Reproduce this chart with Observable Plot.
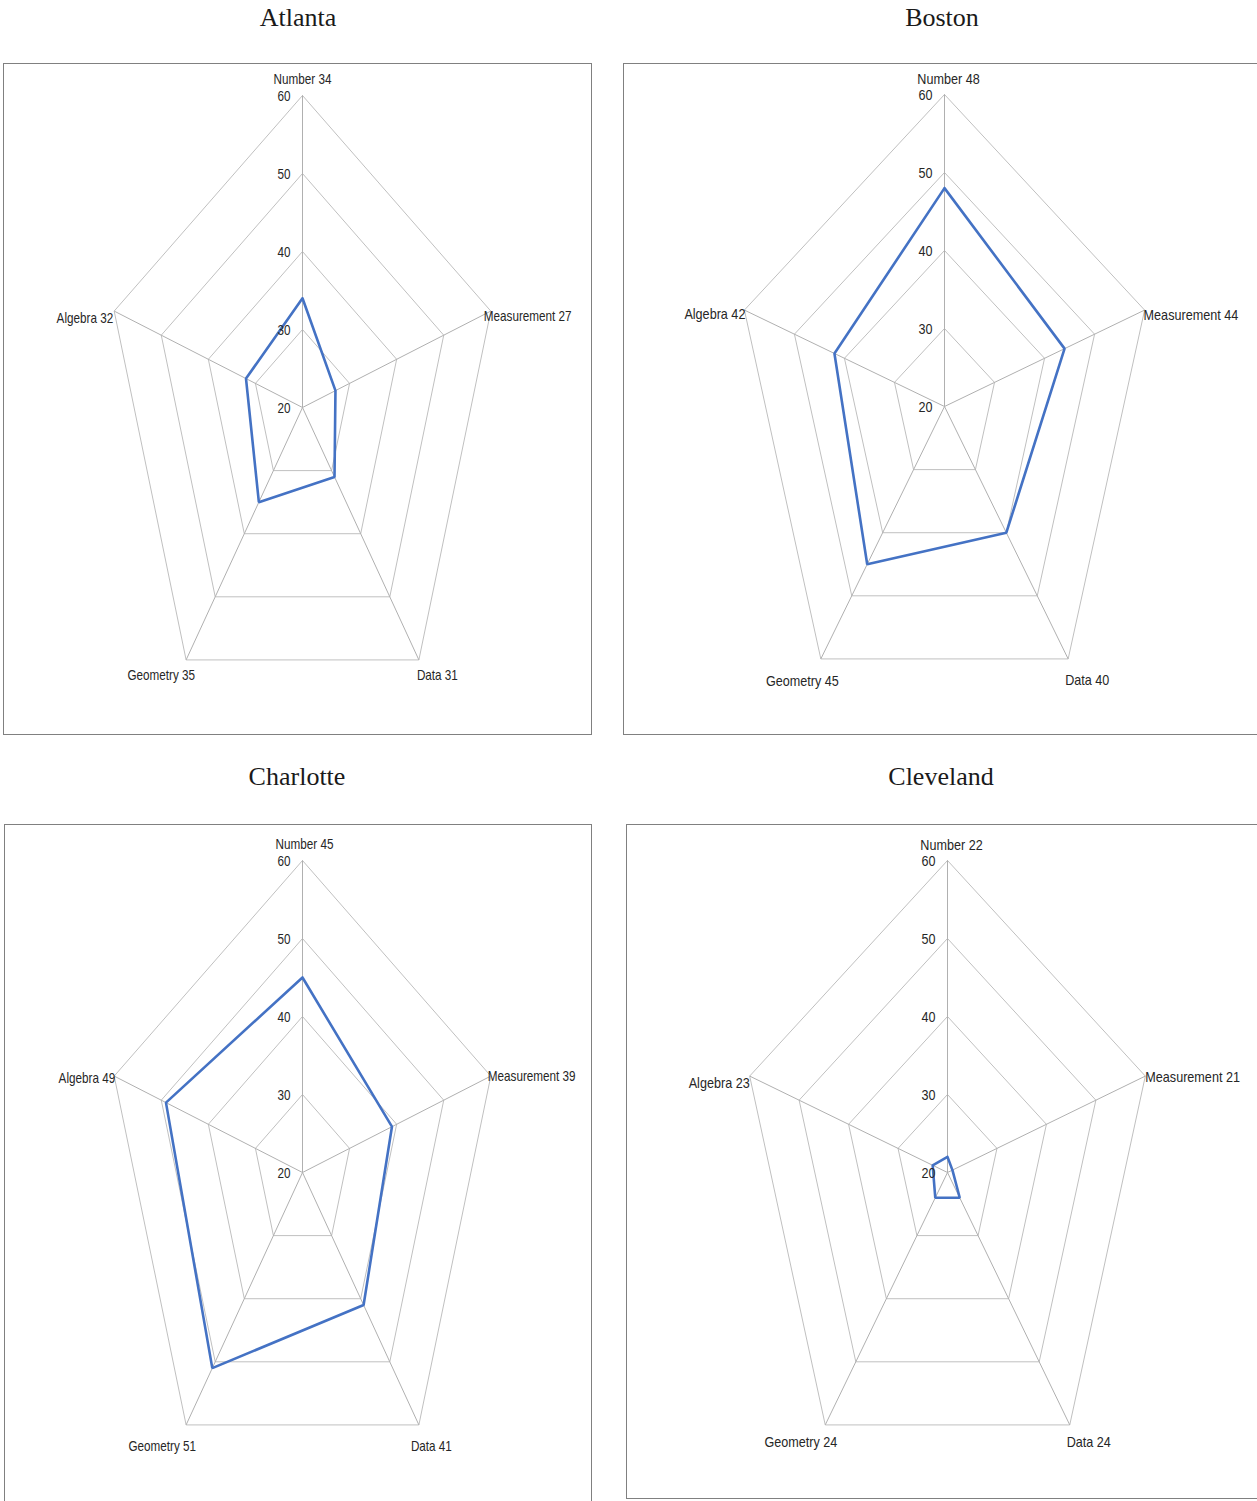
<!DOCTYPE html>
<html>
<head>
<meta charset="utf-8">
<script src="https://cdn.jsdelivr.net/npm/d3@7"></script>
<script src="https://cdn.jsdelivr.net/npm/@observablehq/plot@0.6"></script>
<style>
  body { margin: 0; background: #fff; }
  #root { position: relative; width: 1257px; height: 1501px; overflow: hidden; background: #fff; }
  .title { position: absolute; font-family: "Liberation Serif", "Times New Roman", serif; font-size: 26px; color: #1a1a1a; transform: translateX(-50%); white-space: nowrap; line-height: 1; }
  .panel { position: absolute; border: 1px solid #808080; box-sizing: border-box; background: #fff; overflow: visible; }
  .panel svg { display: block; position: absolute; left: -1px; top: -1px; overflow: visible; max-width: none !important; }
</style>
</head>
<body>
<div id="root"></div>
<script>
// ---- data ----
const categories = ["Number", "Measurement", "Data", "Geometry", "Algebra"];
const cityNames = ["Atlanta", "Boston", "Charlotte", "Cleveland"];
const atlantaScores = [34, 27, 31, 35, 32];
const bostonScores = [48, 44, 40, 45, 42];
const charlotteScores = [45, 39, 41, 51, 49];
const clevelandScores = [22, 21, 24, 24, 23];
const ringTicks = [20, 30, 40, 50, 60];

// ---- layout (positions / styles, separate from data) ----
const layouts = [
  { left: 3, top: 63, width: 589, height: 672, svgW: 620, cx: 299, cy: 344, kx: 4.95, ky: 7.8, titleX: 298, titleY: 5, squeeze: 0.78,
    off: [[0, -16, "middle"], [-7, 5, "start"], [-2, 15, "start"], [9, 15, "end"], [-1, 7, "end"]] },
  { left: 623, top: 63, width: 640, height: 672, svgW: 634, cx: 321, cy: 343, kx: 5.26, ky: 7.8, titleX: 942, titleY: 5, squeeze: 0.84,
    off: [[4, -15, "middle"], [-1, 5, "start"], [-3, 21, "start"], [18, 22, "end"], [1, 4, "end"]] },
  { left: 4, top: 824, width: 588, height: 682, svgW: 620, cx: 298, cy: 348, kx: 4.95, ky: 7.8, titleX: 297, titleY: 764, squeeze: 0.78,
    off: [[2, -16, "middle"], [-3, 0, "start"], [-8, 21, "start"], [10, 21, "end"], [1, 2, "end"]] },
  { left: 626, top: 824, width: 640, height: 675, svgW: 631, cx: 321, cy: 348, kx: 5.2, ky: 7.8, titleX: 941, titleY: 764, squeeze: 0.84,
    off: [[4, -15, "middle"], [0, 1, "start"], [-3, 17, "start"], [12, 17, "end"], [0, 7, "end"]] }
];

const allScores = [atlantaScores, bostonScores, charlotteScores, clevelandScores];
const base = ringTicks[0];
const top60 = ringTicks[ringTicks.length - 1];
const span = top60 - base;

function pt(v, i) {
  const a = (i * 2 * Math.PI) / categories.length;
  return { x: (v - base) * Math.sin(a), y: (v - base) * Math.cos(a) };
}

const root = document.getElementById("root");
const labelFont = "'Liberation Sans', Arial, sans-serif";

cityNames.forEach((city, ci) => {
  const L = layouts[ci];
  const scores = allScores[ci];

  const t = document.createElement("div");
  t.className = "title";
  t.style.left = L.titleX + "px";
  t.style.top = L.titleY + "px";
  t.textContent = city;
  root.appendChild(t);

  const rings = [];
  ringTicks.slice(1).forEach(tk => {
    for (let k = 0; k <= categories.length; k++) {
      const p = pt(tk, k % categories.length);
      rings.push({ ring: tk, x: p.x, y: p.y });
    }
  });
  const spokes = categories.map((c, i) => {
    const p = pt(top60, i);
    return { x1: 0, y1: 0, x2: p.x, y2: p.y };
  });
  const series = [];
  for (let k = 0; k <= categories.length; k++) {
    const i = k % categories.length;
    const p = pt(scores[i], i);
    series.push({ x: p.x, y: p.y });
  }
  const ticks = ringTicks.map(tk => ({ x: 0, y: tk - base, label: String(tk) }));

  const labelMarks = categories.map((c, i) => {
    const p = pt(top60, i);
    const [dx, dy, anchor] = L.off[i];
    return Plot.text([{ x: p.x, y: p.y, label: `${c} ${scores[i]}` }], {
      x: "x", y: "y", text: "label", textAnchor: anchor, dx, dy,
      fontSize: 15, fill: "#262626", fontFamily: labelFont
    });
  });

  const chart = Plot.plot({
    width: L.svgW,
    height: L.height,
    margin: 0,
    x: { type: "linear", domain: [-span, span], range: [L.cx - span * L.kx, L.cx + span * L.kx], axis: null },
    y: { type: "linear", domain: [-span, span], range: [L.cy + span * L.ky, L.cy - span * L.ky], axis: null },
    style: { background: "transparent", fontFamily: labelFont, overflow: "visible", maxWidth: "none" },
    marks: [
      Plot.line(rings, { x: "x", y: "y", z: "ring", stroke: "#c0c0c0", strokeWidth: 1 }),
      Plot.link(spokes, { x1: "x1", y1: "y1", x2: "x2", y2: "y2", stroke: "#b0b0b0", strokeWidth: 1 }),
      Plot.line(series, { x: "x", y: "y", stroke: "#4472c4", strokeWidth: 2.6, strokeLinejoin: "miter" }),
      Plot.text(ticks, { x: "x", y: "y", text: "label", textAnchor: "end", dx: -12, dy: 1, fontSize: 15, fill: "#262626", fontFamily: labelFont }),
      ...labelMarks
    ]
  });

  const panel = document.createElement("div");
  panel.className = "panel";
  panel.style.left = L.left + "px";
  panel.style.top = L.top + "px";
  panel.style.width = L.width + "px";
  panel.style.height = L.height + "px";
  panel.appendChild(chart);
  root.appendChild(panel);

  // condensed look of the original labels
  chart.querySelectorAll("text").forEach(el => {
    const w = el.getComputedTextLength();
    if (w > 0) {
      el.setAttribute("textLength", (w * L.squeeze).toFixed(1));
      el.setAttribute("lengthAdjust", "spacingAndGlyphs");
    }
  });
});
</script>
</body>
</html>
